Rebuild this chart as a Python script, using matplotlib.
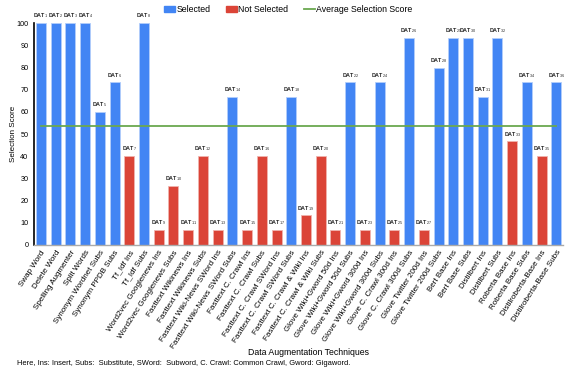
import matplotlib.pyplot as plt
import numpy as np
from matplotlib.lines import Line2D
from matplotlib.patches import Patch

plt.rcParams['font.family'] = ['Liberation Sans', 'DejaVu Sans']
plt.rcParams['mathtext.fontset'] = 'custom'
plt.rcParams['mathtext.rm'] = 'Liberation Sans'
plt.rcParams['mathtext.bf'] = 'Liberation Sans:bold'

# data
techniques = [
    "Swap Word", "Delete Word", "Spelling Augmenter", "Split Words",
    "Synonym Wordnet Subs", "Synonym PPDB Subs", "Tf_Idf Ins", "Tf_Idf Subs",
    "Word2vec Googlenews Ins", "Word2vec Googlenews Subs",
    "Fasttext Wikinews Ins", "Fasttext Wikinews Subs",
    "Fasttext Wiki-News SWord Ins", "Fasttext Wiki-News SWord Subs",
    "Fasttext C. Crawl Ins", "Fasttext C. Crawl Subs",
    "Fasttext C. Crawl SWord Ins", "Fasttext C. Crawl SWord Subs",
    "Fasttext C. Crawl & Wiki Ins", "Fasttext C. Crawl & Wiki Subs",
    "Glove Wiki+Gword 50d Ins", "Glove Wiki+Gword 50d Subs",
    "Glove Wiki+Gword 300d Ins", "Glove Wiki+Gword 300d Subs",
    "Glove C. Crawl 300d Ins", "Glove C. Crawl 300d Subs",
    "Glove Twitter 200d Ins", "Glove Twitter 200d Subs",
    "Bert Base Ins", "Bert Base Subs", "Distilbert Ins", "Distilbert Subs",
    "Roberta Base Ins", "Roberta Base Subs",
    "Distilroberta-Base Ins", "Distilroberta-Base Subs",
]
scores = [
    100, 100, 100, 100, 60, 73.3, 40, 100,
    6.67, 26.7, 6.67, 40, 6.67, 66.7, 6.67, 40, 6.67, 66.7, 13.3, 40,
    6.67, 73.3, 6.67, 73.3, 6.67, 93.3, 6.67, 80,
    93.3, 93.3, 66.7, 93.3, 46.7, 73.3, 40, 73.3,
]
selected = [
    1, 1, 1, 1, 1, 1, 0, 1,
    0, 0, 0, 0, 0, 1, 0, 0, 0, 1, 0, 0,
    0, 1, 0, 1, 0, 1, 0, 1,
    1, 1, 1, 1, 0, 1, 0, 1,
]
avg_score = np.mean(scores)

blue = '#4285F4'
red = '#DB4437'
green = '#6AA84F'

fig = plt.figure(figsize=(5.71, 3.70), dpi=100)
ax = fig.add_axes([0.0595, 0.338, 0.927, 0.599])

x = np.arange(len(scores))
colors = [blue if s else red for s in selected]
edges = ['#B3CEFB' if s else '#F0B4AE' for s in selected]
ax.bar(x, scores, width=0.68, color=colors, edgecolor=edges, linewidth=0.6, zorder=2)
ax.plot([x[0], x[-1]], [avg_score, avg_score], color=green, lw=1.3, zorder=3)

# DAT labels above bars
for i, v in enumerate(scores):
    ax.text(x[i], v + 1.3, r'$\mathbf{DAT}_{%d}$' % (i + 1), ha='center', va='bottom',
            fontsize=3.85, color='#222222')

ax.set_xlim(-0.47, len(scores) - 0.53)
ax.set_ylim(0, 100)
ax.set_yticks(range(0, 101, 10))
ax.tick_params(axis='y', length=0, labelsize=5.2, pad=4)
ax.tick_params(axis='x', length=0, labelsize=5.8, pad=3)
ax.set_xticks(x)
ax.set_xticklabels(techniques, rotation=57, ha='right', rotation_mode='anchor')

for s in ['top', 'right']:
    ax.spines[s].set_visible(False)
ax.spines['left'].set_color('black')
ax.spines['left'].set_linewidth(1.2)
ax.spines['bottom'].set_color('#AAAAAA')
ax.spines['bottom'].set_linewidth(1)

ax.set_ylabel('Selection Score', fontsize=5.8)
ax.yaxis.set_label_coords(-0.033, 0.5)
fig.text(0.54, 0.04, 'Data Augmentation Techniques', ha='center', fontsize=6.3)
fig.text(0.03, 0.013, 'Here, Ins: Insert, Subs:  Substitute, SWord:  Subword, C. Crawl: Common Crawl, Gword: Gigaword.',
         fontsize=5.4)

handles = [Patch(color=blue), Patch(color=red), Line2D([], [], color=green, lw=1.3)]
fig.legend(handles, ['Selected', 'Not Selected', 'Average Selection Score'],
           loc='center', bbox_to_anchor=(0.505, 0.975), ncol=3, frameon=False,
           fontsize=6.3, handlelength=1.2, handleheight=0.7, columnspacing=1.8,
           handletextpad=0.2)

fig.savefig('out.png', dpi=100)
